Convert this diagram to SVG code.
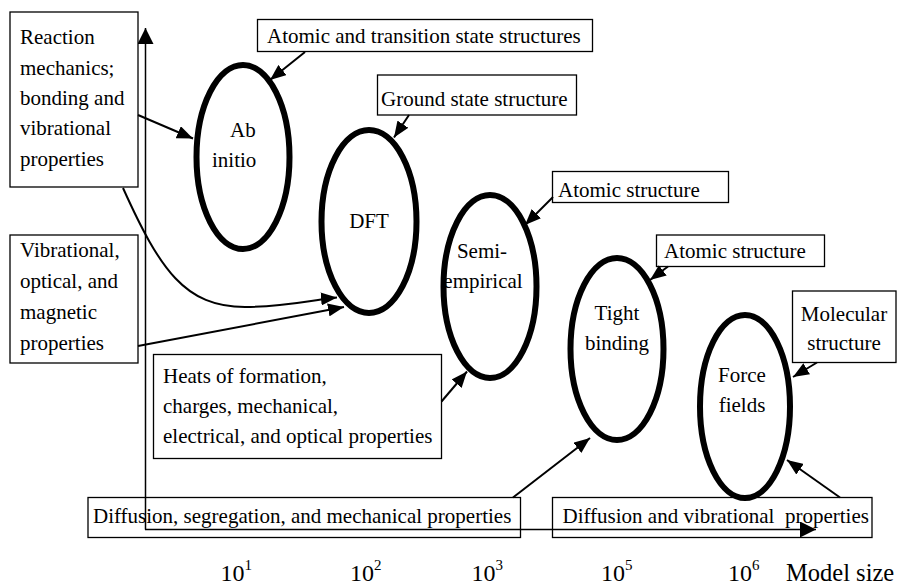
<svg xmlns="http://www.w3.org/2000/svg" width="900" height="588" viewBox="0 0 900 588" font-family="'Liberation Serif', 'Times New Roman', 'DejaVu Serif', serif">
<style>
text{font-family:"Liberation Serif","Times New Roman","DejaVu Serif",serif;font-size:21px;fill:#000}
.box{fill:#fff;stroke:#000;stroke-width:1.3}
.ell{fill:none;stroke:#000;stroke-width:6}
.con{fill:none;stroke:#000;stroke-width:2}
.axis{fill:none;stroke:#000;stroke-width:1.5}
.lab{font-size:24px}
.ms{font-size:24.5px}
.sup{font-size:15px}
</style>
<defs>
<marker id="ah" markerUnits="userSpaceOnUse" markerWidth="16" markerHeight="13" viewBox="0 0 16 13" refX="16" refY="6.5" orient="auto"><path d="M0,0 L16,6.5 L0,13 z" fill="#000"/></marker>
<marker id="ax" markerUnits="userSpaceOnUse" markerWidth="16" markerHeight="16" viewBox="0 0 16 16" refX="16" refY="8" orient="auto"><path d="M0,0 L16,8 L0,16 z" fill="#000"/></marker>
</defs>
<g id="box-reaction"><rect class="box" x="10" y="12" width="128" height="175"/>
<text x="20" y="44">Reaction</text><text x="20" y="74.5">mechanics;</text><text x="20" y="105">bonding and</text><text x="20" y="135">vibrational</text><text x="20" y="165.5">properties</text></g>
<g id="box-vibrational"><rect class="box" x="10" y="235" width="128" height="128"/>
<text x="20" y="257">Vibrational,</text><text x="20" y="288">optical, and</text><text x="20" y="319">magnetic</text><text x="20" y="349.5">properties</text></g>
<g id="box-heats"><rect class="box" x="153.5" y="354.5" width="288" height="104"/>
<text x="163" y="383">Heats of formation,</text><text x="163" y="413">charges, mechanical,</text><text x="163" y="443">electrical, and optical properties</text></g>
<g id="box-atomic-ts"><rect class="box" x="257.5" y="19.5" width="335" height="32"/><text x="267" y="43">Atomic and transition state structures</text></g>
<g id="box-ground"><rect class="box" x="377.5" y="75" width="199" height="40"/><text x="381" y="106">Ground state structure</text></g>
<g id="box-atomic1"><rect class="box" x="552.5" y="171.5" width="176" height="31"/><text x="558" y="197">Atomic structure</text></g>
<g id="box-atomic2"><rect class="box" x="656.5" y="235" width="168" height="31.5"/><text x="664" y="258">Atomic structure</text></g>
<g id="box-molecular"><rect class="box" x="792.5" y="291" width="103.5" height="71.5"/><text x="844" y="320.5" text-anchor="middle">Molecular</text><text x="844" y="350" text-anchor="middle">structure</text></g>
<g id="box-diff1"><rect class="box" x="88" y="497.5" width="432.5" height="40"/><text x="93" y="522.5">Diffusion, segregation, and mechanical properties</text></g>
<g id="box-diff2"><rect class="box" x="552.5" y="497.5" width="319.5" height="40"/><text x="562.5" y="522.5" xml:space="preserve">Diffusion and vibrational  properties</text></g>
<g id="ab-initio"><ellipse class="ell" cx="243" cy="157" rx="46.5" ry="92"/><text x="230" y="137">Ab</text><text x="212" y="167">initio</text></g>
<g id="dft"><ellipse class="ell" cx="369" cy="221.5" rx="47.5" ry="91.5"/><text x="369" y="228" text-anchor="middle">DFT</text></g>
<g id="semi-empirical"><ellipse class="ell" cx="490" cy="286.5" rx="46.5" ry="91.5"/><text x="482" y="258" text-anchor="middle">Semi-</text><text x="483" y="288" text-anchor="middle">empirical</text></g>
<g id="tight-binding"><ellipse class="ell" cx="617" cy="349" rx="46.5" ry="91"/><text x="617" y="320" text-anchor="middle">Tight</text><text x="617" y="350" text-anchor="middle">binding</text></g>
<g id="force-fields"><ellipse class="ell" cx="745" cy="406.5" rx="45" ry="91.5"/><text x="742" y="381.5" text-anchor="middle">Force</text><text x="742" y="411.5" text-anchor="middle">fields</text></g>
<g id="connectors">
<line class="con" x1="305" y1="52" x2="270" y2="80" marker-end="url(#ah)"/>
<line class="con" x1="409" y1="115" x2="394" y2="137.5" marker-end="url(#ah)"/>
<line class="con" x1="553" y1="197" x2="525" y2="225" marker-end="url(#ah)"/>
<line class="con" x1="668" y1="266.5" x2="650" y2="280" marker-end="url(#ah)"/>
<line class="con" x1="817" y1="362.5" x2="793" y2="377" marker-end="url(#ah)"/>
<line class="con" x1="441.5" y1="401.5" x2="467" y2="371.5" marker-end="url(#ah)"/>
<line class="con" x1="513" y1="497.5" x2="590" y2="438" marker-end="url(#ah)"/>
<line class="con" x1="840" y1="497.5" x2="787" y2="460" marker-end="url(#ah)"/>
<line class="con" x1="138" y1="115" x2="193" y2="138.5" marker-end="url(#ah)"/>
<line class="con" x1="138" y1="346" x2="344" y2="307" marker-end="url(#ah)"/>
<path class="con" d="M123,188 C160,270 185,307 245,307 C285,307 310,300 337,297.5" marker-end="url(#ah)"/>
<line class="axis" x1="145.5" y1="529.5" x2="145.5" y2="28" marker-end="url(#ax)"/>
<line class="axis" x1="145" y1="529.5" x2="816" y2="529.5" marker-end="url(#ax)"/>
</g>
<g id="axis-labels">
<text class="lab" x="220.5" y="581">10<tspan class="sup" dy="-11">1</tspan></text>
<text class="lab" x="350" y="581">10<tspan class="sup" dy="-11">2</tspan></text>
<text class="lab" x="471.5" y="581">10<tspan class="sup" dy="-11">3</tspan></text>
<text class="lab" x="601" y="581">10<tspan class="sup" dy="-11">5</tspan></text>
<text class="lab" x="728" y="581">10<tspan class="sup" dy="-11">6</tspan></text>
<text class="lab ms" x="786" y="581">Model size</text>
</g>
</svg>
